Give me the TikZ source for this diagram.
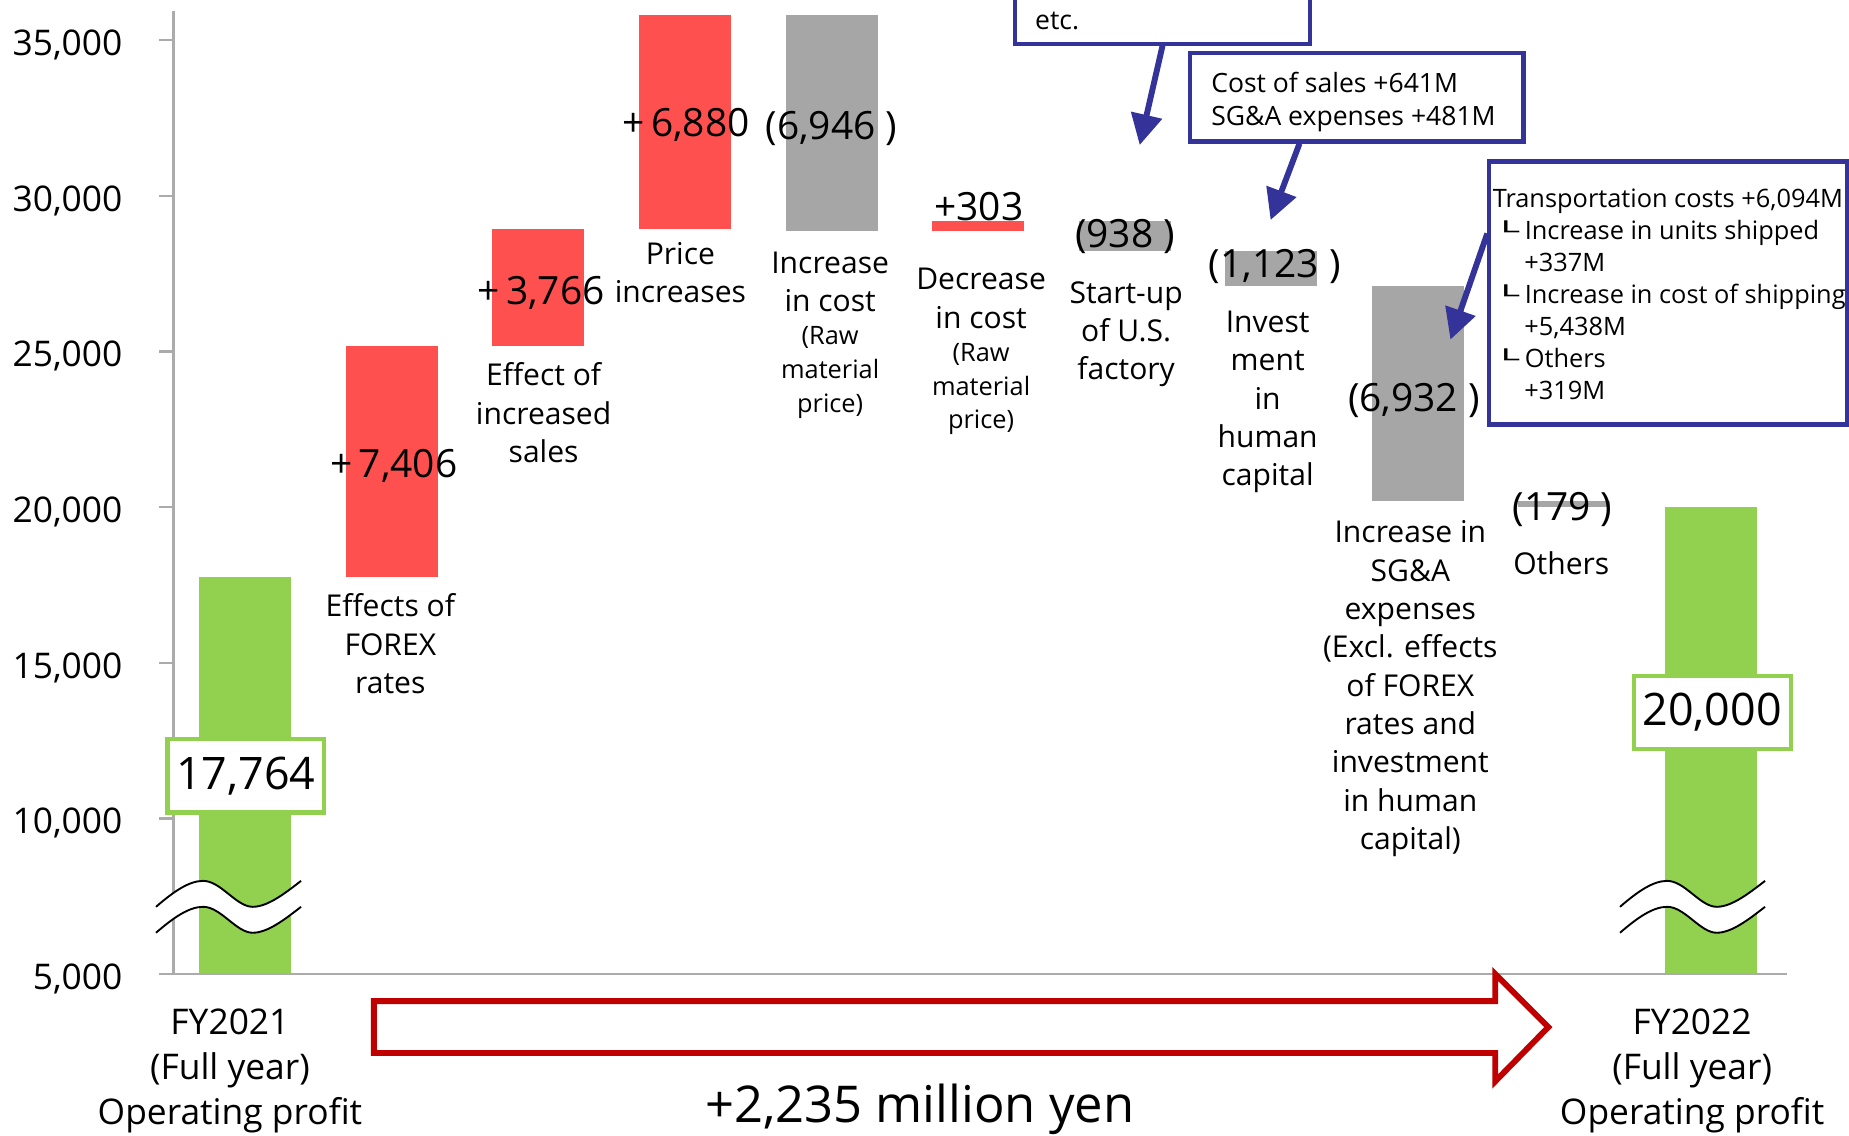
\documentclass[tikz,border=0pt]{standalone}
\usepackage{fontspec}
\usepackage{graphicx}
\setmainfont{Open Sans}
\newfontfamily\dejavu{DejaVu Sans}
\usetikzlibrary{arrows.meta}
\definecolor{barred}{HTML}{FF5050}
\definecolor{bargray}{HTML}{A6A6A6}
\definecolor{bargreen}{HTML}{92D050}
\definecolor{axisgray}{HTML}{ABABAB}
\definecolor{navy}{HTML}{333399}
\definecolor{darkred}{HTML}{C00000}
\newcommand\crn{{\dejavu\fontsize{16}{16}\selectfont\raisebox{0.6pt}{\scalebox{2.3}[1]{└}}}}
\newcommand\mybreak[1]{%
  \begin{scope}[shift={(#1,769)}]
    \fill[white] (0,0) .. controls (15,-13) and (28,-22) .. (40,-22) .. controls (55,-22) and (68,0) .. (82,0) .. controls (95,0) and (110,-12) .. (123,-22) -- (123,0) .. controls (110,10) and (95,22) .. (82,22) .. controls (68,22) and (55,0) .. (40,0) .. controls (28,0) and (15,9) .. (0,22) -- cycle;
    \draw[breakline] (0,0) .. controls (15,-13) and (28,-22) .. (40,-22) .. controls (55,-22) and (68,0) .. (82,0) .. controls (95,0) and (110,-12) .. (123,-22);
    \draw[breakline] (0,22) .. controls (15,9) and (28,0) .. (40,0) .. controls (55,0) and (68,22) .. (82,22) .. controls (95,22) and (110,10) .. (123,0);
  \end{scope}}
\begin{document}
\begin{tikzpicture}[x=1pt,y=-1pt,
  ticklbl/.style={font=\fontsize{30}{30}\selectfont, anchor=base east, inner sep=0pt},
  catlbl/.style={font=\fontsize{25.5}{32.5}\selectfont, align=center, anchor=north, inner sep=0pt},
  smalllbl/.style={font=\fontsize{21.5}{28.5}\selectfont, align=center, anchor=north, inner sep=0pt},
  vallbl/.style={font=\fontsize{33}{33}\selectfont, anchor=base, inner sep=0pt},
  totbox/.style={draw=bargreen, line width=3.5pt, fill=white, minimum width=133pt, minimum height=62pt, font=\fontsize{38}{38}\selectfont, inner sep=0pt},
  callbox/.style={draw=navy, line width=3.5pt, fill=white, inner sep=0pt},
  callarrow/.style={draw=navy, line width=5pt, -{Triangle[length=26pt,width=26pt]}},
  calltext/.style={font=\fontsize{22.5}{27.6}\selectfont, inner sep=0pt, align=left},
  calltextb/.style={font=\fontsize{21.5}{27.1}\selectfont, inner sep=0pt, align=left},
  fylbl/.style={font=\fontsize{30}{38.5}\selectfont, align=center, anchor=north, inner sep=0pt},
  axisline/.style={draw=axisgray, line width=2pt},
  breakline/.style={draw=black, line width=1.6pt}
]
\useasboundingbox (0,0) rectangle (1568,963);
\clip (0,0) rectangle (1568,963);

% bars
\fill[bargreen] (169,489) rectangle (247,826);
\fill[barred] (293.3,489) rectangle (371.3,293.5);
\fill[barred] (417.6,293.5) rectangle (495.6,194.1);
\fill[barred] (541.9,194.1) rectangle (619.9,12.5);
\fill[bargray] (666.2,12.5) rectangle (744.2,195.8);
\fill[barred] (790.5,195.8) rectangle (868.5,187.8);
\fill[bargray] (914.8,187.8) rectangle (992.8,212.6);
\fill[bargray] (1039.1,212.6) rectangle (1117.1,242.2);
\fill[bargray] (1163.4,242.2) rectangle (1241.4,425.25);
\fill[bargray] (1287.7,425.25) rectangle (1365.7,430);
\fill[bargreen] (1412,430) rectangle (1490,826);

% axes
\draw[axisline] (147,9) -- (147,826);
\draw[axisline] (135,826) -- (1515,826);
\foreach \yy in {34,166,298,430,562,694} \draw[axisline] (135,\yy) -- (147,\yy);
\node[ticklbl] (t35) at (104,47) {35,000};
\node[ticklbl] (t30) at (104,179) {30,000};
\node[ticklbl] (t25) at (104,311) {25,000};
\node[ticklbl] (t20) at (104,443) {20,000};
\node[ticklbl] (t15) at (104,575) {15,000};
\node[ticklbl] (t10) at (104,707) {10,000};
\node[ticklbl] (t05) at (104,839) {5,000};

% axis breaks
\mybreak{132.3}
\mybreak{1373.8}

% totals
\node[totbox] (tot1) at (208.5,658) {17,764};
\node[totbox] (tot2) at (1452,604) {20,000};

% values
\node[vallbl, anchor=base east] (v2) at (388,405) {+\,7,406};
\node[vallbl, anchor=base east] (v3) at (513,258) {+\,3,766};
\node[vallbl, anchor=base east] (v4) at (636,116) {+\,6,880};
\node[vallbl] (v5) at (705,118) {(6,946 )};
\node[vallbl] (v6) at (830,187) {+303};
\node[vallbl] (v7) at (954,210) {(938 )};
\node[vallbl] (v8) at (1081,235) {(1,123 )};
\node[vallbl] (v9) at (1199,349) {(6,932 )};
\node[vallbl] (v10) at (1325,441) {(179 )};

% category labels
\node[catlbl] (c2) at (331,503.5) {Effects of\\FOREX\\rates};
\node[catlbl] (c3) at (461,307.5) {Effect of\\increased\\sales};
\node[catlbl] (c4) at (577,205.5) {Price\\increases};
\node[catlbl] (c5) at (704,213.5) {Increase\\in cost};
\node[smalllbl] (c5s) at (704,277) {(Raw\\material\\price)};
\node[catlbl] (c6) at (832,227.5) {Decrease\\in cost};
\node[smalllbl] (c6s) at (832,291) {(Raw\\material\\price)};
\node[catlbl] (c7) at (955,238.5) {Start-up\\of U.S.\\factory};
\node[catlbl] (c8) at (1075,263.5) {Invest\\ment\\in\\human\\capital};
\node[catlbl] (c9) at (1196,441.5) {Increase in\\SG\&A\\expenses\\(Excl. effects\\of FOREX\\rates and\\investment\\in human\\capital)};
\node[catlbl] (c10) at (1324,467.5) {Others};

% bottom labels
\node[fylbl] (fy1) at (195,855) {FY2021\\(Full year)\\Operating profit};
\node[fylbl] (fy2) at (1435,855) {FY2022\\(Full year)\\Operating profit};
\draw[draw=darkred, line width=5pt, line join=miter] (317,849) -- (1268,849) -- (1268,826) -- (1313,871) -- (1268,917) -- (1268,893) -- (317,893) -- cycle;
\node[font=\fontsize{43}{43}\selectfont, anchor=base, inner sep=0pt] (delta) at (780,952) {+2,235 million yen};

% callouts
\node[callbox, minimum width=250.3pt, minimum height=100pt] (box1) at (985.85,-13) {};
\node[calltext, anchor=base west] (etc) at (877.7,24.9) {etc.};
\node[callbox, minimum width=283pt, minimum height=75pt] (box2) at (1150.5,82.5) {};
\node[calltext, anchor=north west] (box2txt) at (1027,61) {Cost of sales +641M\\SG\&A expenses +481M};
\node[callbox, minimum width=303pt, minimum height=223pt] (box3) at (1414.5,248.5) {};
\node[calltextb, anchor=north west] (box3txt) at (1265.7,160) {Transportation costs +6,094M\\
\hspace*{0pt}\crn\hspace*{5pt}Increase in units shipped\\
\hspace*{26.8pt}+337M\\
\hspace*{0pt}\crn\hspace*{5pt}Increase in cost of shipping\\
\hspace*{26.8pt}+5,438M\\
\hspace*{0pt}\crn\hspace*{5pt}Others\\
\hspace*{26.8pt}+319M};
\coordinate (tip1) at (966.5,123);
\coordinate (tip2) at (1077.5,186.6);
\coordinate (tip3) at (1230,288);
\draw[callarrow] (box1.south) -- (tip1);
\draw[callarrow] ([xshift=-48.5pt]box2.south) -- (tip2);
\draw[callarrow] ([yshift=50.5pt]box3.west) -- (tip3);
\end{tikzpicture}
\end{document}
